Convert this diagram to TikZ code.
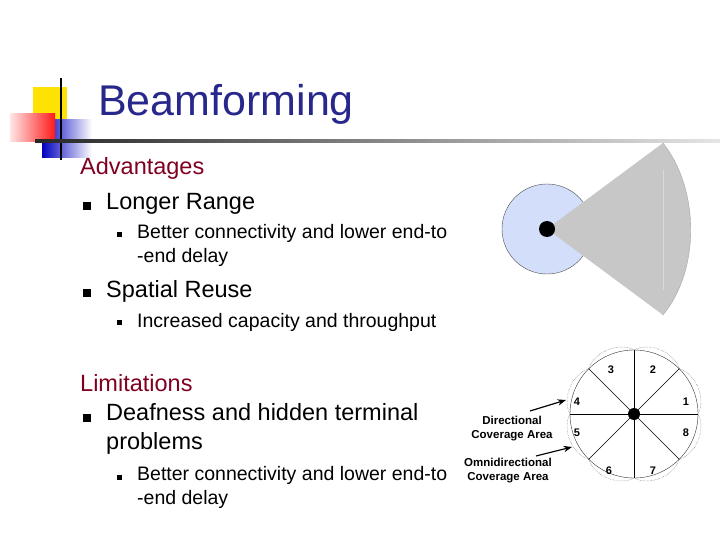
\documentclass[tikz,border=0pt]{standalone}
\usepackage{fontspec}
\setmainfont{Liberation Sans}
\usetikzlibrary{arrows.meta,calc}
\definecolor{titleblue}{RGB}{40,40,140}
\definecolor{headred}{RGB}{128,0,32}
\definecolor{coverblue}{RGB}{210,222,250}
\tikzset{%
  lvlone/.style={anchor=west,font=\fontsize{23.5}{29}\selectfont,inner sep=0pt},
  lvltwo/.style={anchor=west,font=\fontsize{19.5}{24}\selectfont,inner sep=0pt,align=left},
  sector num/.style={font=\bfseries\fontsize{11}{12}\selectfont},
  cover label/.style={font=\bfseries\fontsize{11.5}{14}\selectfont,align=center,inner sep=1pt}
}
\begin{document}
\begin{tikzpicture}[x=1pt,y=-1pt,>=Stealth]
  \useasboundingbox (0,0) rectangle (720,540);
  % logo
  \fill[yellow!85!orange] (33,87) rectangle (67,120);
  \shade[left color=blue!75!black, right color=white] (42,120) rectangle (92,158);
  \shade[left color=red!10, right color=red!90] (10,114) rectangle (55,142);
  \draw[line width=1.5pt] (61,78) -- (61,160);
  \shade[left color=black!85, right color=black!10] (35,140) rectangle (720,143);
  \node[anchor=west,text=titleblue,font=\fontsize{43}{50}\selectfont,inner sep=0pt] (title) at (98,104) {Beamforming};
  % text
  \node[lvlone,text=headred] (adv) at (80,168) {Advantages};
  \fill (83,202) rectangle (91,210);
  \node[lvlone] (range) at (106,204) {Longer Range};
  \fill (117,232) rectangle (122,237);
  \node[lvltwo,anchor=north west] (conn) at (137,224) {Better connectivity and lower end-to\\-end delay};
  \fill (83,289) rectangle (91,297);
  \node[lvlone] (reuse) at (106,291) {Spatial Reuse};
  \fill (117,320) rectangle (122,325);
  \node[lvltwo] (cap) at (137,322) {Increased capacity and throughput};
  \node[lvlone,text=headred] (lim) at (80,383) {Limitations};
  \fill (83,414) rectangle (91,422);
  \node[lvlone,anchor=north west,align=left] (deaf) at (106,403) {Deafness and hidden terminal\\problems};
  \fill (117,475) rectangle (122,480);
  \node[lvltwo,anchor=north west] (conn2) at (137,466) {Better connectivity and lower end-to\\-end delay};
  % beam
  \fill[coverblue] (547,229) circle (45);
  \draw[black!70] (547,229) circle (45);
  \fill[black!22] (547,229) -- (663,143) .. controls (700,190) and (700,270) .. (663,315) -- cycle;
  \draw[black!35] (663,143) .. controls (700,190) and (700,270) .. (663,315);
  \draw[black!15] (663,170) -- (663,290);
  \fill (547,229) circle (8);
  % sectors
  \coordinate (c) at (634,414);
  \draw[black!80] (c) circle (64);
  \foreach \a in {0,45,...,315} {
    \draw (c) -- ($(c)+(\a:64)$);
    \draw[black!70,densely dotted] ($(c)+(\a:64)$) .. controls ($(c)+(\a+12:74)$) and ($(c)+(\a+33:74)$) .. ($(c)+(\a+45:64)$);
  }
  \fill (c) circle (6);
  \node[sector num] (n3) at (611,370) {3};
  \node[sector num] (n2) at (653,370) {2};
  \node[sector num] (n4) at (577,402) {4};
  \node[sector num] (n1) at (686,402) {1};
  \node[sector num] (n5) at (577,433) {5};
  \node[sector num] (n8) at (686,433) {8};
  \node[sector num] (n6) at (609,471) {6};
  \node[sector num] (n7) at (653,471) {7};
  \node[cover label] (dir) at (512,429) {Directional\\Coverage Area};
  \node[cover label] (omni) at (508,471) {Omnidirectional\\Coverage Area};
  \coordinate (dirtip) at (566,400);
  \coordinate (omnitip) at (572,447);
  \draw[->,line width=1.2pt] (530,411) -- (dirtip);
  \draw[->,line width=1.2pt] (536,456) -- (omnitip);
\end{tikzpicture}
\end{document}
